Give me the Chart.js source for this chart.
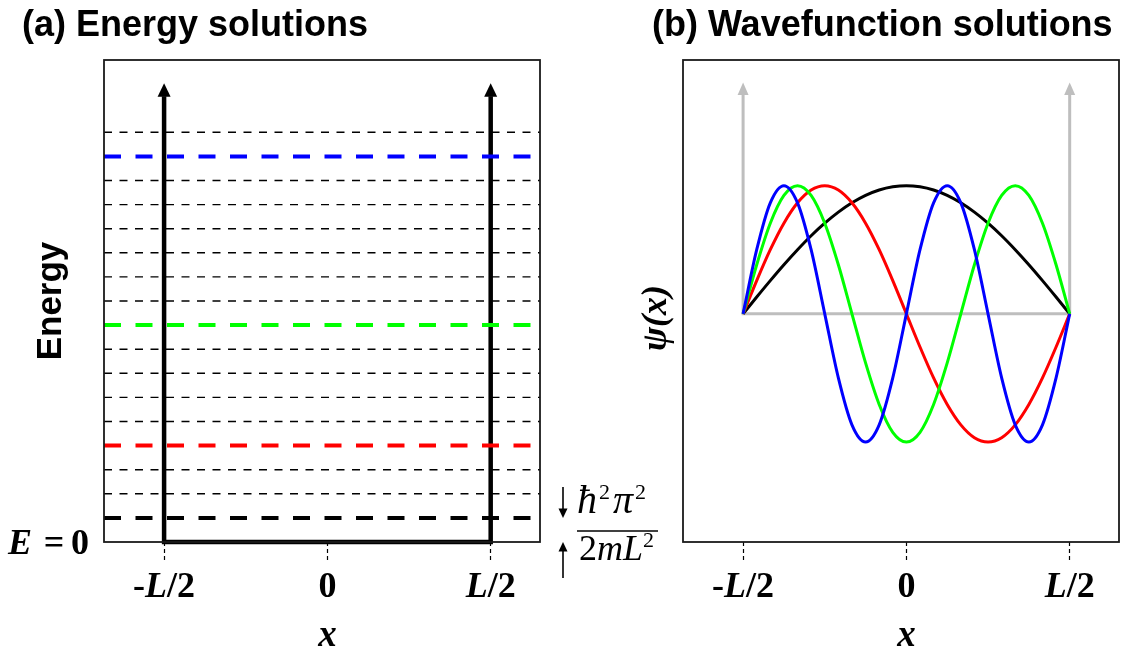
<!DOCTYPE html>
<html><head><meta charset="utf-8">
<script src="https://cdn.jsdelivr.net/npm/chart.js@4.4.0/dist/chart.umd.min.js"></script>
<style>
html,body{margin:0;padding:0;background:#fff;}
#wrap{position:relative;width:1121px;height:652px;overflow:hidden;background:#fff;}
canvas{position:absolute;left:0;top:0;}
</style></head><body>
<div id="wrap"><canvas id="ca" width="1121" height="652"></canvas><canvas id="cb" width="1121" height="652"></canvas></div>
<script>
// ---------- data ----------
const TICK_POS = [-0.5, 0, 0.5];
const TICK_LABELS = ['-L/2', '0', 'L/2'];

// (a) energy levels E_n in units of hbar^2 pi^2 / (2 m L^2)
const LEVEL_N = [1, 2, 3, 4];
const LEVEL_E = [1, 4, 9, 16];
const LEVEL_COLORS = ['#000000', '#FF0000', '#00FF00', '#0000FF'];
const GRID_E = [2, 3, 5, 6, 7, 8, 10, 11, 12, 13, 14, 15, 17];
const WALL_X = [-0.5, -0.5, 0.5, 0.5];
const WALL_E = [18.5, 0, 0, 18.5];

// (b) wavefunctions
const PSI_X = [-0.5, -0.4583, -0.4167, -0.375, -0.3333, -0.2917, -0.25, -0.2083, -0.1667, -0.125, -0.0833, -0.0417, 0,
               0.0417, 0.0833, 0.125, 0.1667, 0.2083, 0.25, 0.2917, 0.3333, 0.375, 0.4167, 0.4583, 0.5];
const PSI_1 = [0, 0.131, 0.259, 0.383, 0.500, 0.609, 0.707, 0.793, 0.866, 0.924, 0.966, 0.991, 1.000,
               0.991, 0.966, 0.924, 0.866, 0.793, 0.707, 0.609, 0.500, 0.383, 0.259, 0.131, 0];
const PSI_2 = [0, 0.259, 0.500, 0.707, 0.866, 0.966, 1.000, 0.966, 0.866, 0.707, 0.500, 0.259, 0,
               -0.259, -0.500, -0.707, -0.866, -0.966, -1.000, -0.966, -0.866, -0.707, -0.500, -0.259, 0];
const PSI_3 = [0, 0.383, 0.707, 0.924, 1.000, 0.924, 0.707, 0.383, 0, -0.383, -0.707, -0.924, -1.000,
               -0.924, -0.707, -0.383, 0, 0.383, 0.707, 0.924, 1.000, 0.924, 0.707, 0.383, 0];
const PSI_4 = [0, 0.500, 0.866, 1.000, 0.866, 0.500, 0, -0.500, -0.866, -1.000, -0.866, -0.500, 0,
               0.500, 0.866, 1.000, 0.866, 0.500, 0, -0.500, -0.866, -1.000, -0.866, -0.500, 0];
const PSI_COLORS = ['#000000', '#FF0000', '#00FF00', '#0000FF'];
const PSI_AXIS_X = [-0.5, -0.5, 0.5, 0.5];
const PSI_AXIS_Y = [1.71, 0, 0, 1.71];

// ---------- layout constants ----------
const X_MIN = -0.684, X_MAX = 0.651;
const SANS = '"Liberation Sans", Arial, Helvetica, sans-serif';
const SERIF = '"Liberation Serif", "Times New Roman", Times, serif';

function xScaleOpts() {
  return {
    type: 'linear', min: X_MIN, max: X_MAX,
    afterBuildTicks: s => { s.ticks = TICK_POS.map(v => ({ value: v })); },
    afterFit: s => { s.height = 110; },
    ticks: { display: false },
    grid: { drawOnChartArea: false, drawTicks: true, tickLength: 21, tickColor: '#000', tickWidth: 1.2, tickBorderDash: [4, 3] },
    border: { display: false }
  };
}

// tick labels: letters bold italic, digits and signs bold upright (as in the math labels)
function drawTickLabels(ctx, xs) {
  ctx.save(); ctx.fillStyle = '#000'; ctx.textAlign = 'left'; ctx.textBaseline = 'alphabetic';
  TICK_POS.forEach((v, i) => {
    const chars = TICK_LABELS[i].split('');
    const fontOf = c => (/[A-Za-z]/.test(c) ? 'bold italic ' : 'bold ') + '36px ' + SERIF;
    let w = 0;
    chars.forEach(c => { ctx.font = fontOf(c); w += ctx.measureText(c).width; });
    let x = xs.getPixelForValue(v) - w / 2;
    chars.forEach(c => { ctx.font = fontOf(c); ctx.fillText(c, x, 597); x += ctx.measureText(c).width; });
  });
  ctx.restore();
}

function arrowHead(ctx, x, yBase, len, half, color, up) {
  ctx.save();
  ctx.fillStyle = color;
  ctx.beginPath();
  if (up) { ctx.moveTo(x, yBase - len); ctx.lineTo(x - half, yBase + 0.5); ctx.lineTo(x + half, yBase + 0.5); }
  else { ctx.moveTo(x, yBase + len); ctx.lineTo(x - half, yBase - 0.5); ctx.lineTo(x + half, yBase - 0.5); }
  ctx.closePath(); ctx.fill(); ctx.restore();
}

function frame(ctx, a) {
  ctx.save(); ctx.strokeStyle = '#1a1a1a'; ctx.lineWidth = 1.8;
  ctx.strokeRect(a.left, a.top, a.right - a.left, a.bottom - a.top);
  ctx.restore();
}

// ---------- chart (a) ----------
const dsA = [];
LEVEL_E.forEach((e, i) => dsA.push({
  label: 'n=' + LEVEL_N[i], data: [{ x: X_MIN, y: e }, { x: X_MAX, y: e }],
  borderColor: LEVEL_COLORS[i], borderWidth: 4, borderDash: [17, 14.5], order: 1
}));
dsA.push({
  label: 'well', data: WALL_X.map((x, i) => ({ x, y: WALL_E[i] })),
  borderColor: '#000', borderWidth: 4.5, borderJoinStyle: 'miter', borderCapStyle: 'butt', order: 2, clip: false
});
GRID_E.forEach(e => dsA.push({
  label: 'E=' + e, data: [{ x: X_MIN, y: e }, { x: X_MAX, y: e }],
  borderColor: '#000', borderWidth: 1.4, borderDash: [8, 7.5], order: 3
}));

const pluginA = {
  id: 'decoA',
  afterDraw(chart) {
    const ctx = chart.ctx, a = chart.chartArea, xs = chart.scales.x, ys = chart.scales.y;
    frame(ctx, a);
    drawTickLabels(ctx, xs);
    // wall arrowheads
    [-0.5, 0.5].forEach(x => arrowHead(ctx, xs.getPixelForValue(x), ys.getPixelForValue(WALL_E[0]), 13, 6.5, '#000', true));
    ctx.save();
    ctx.fillStyle = '#000';
    // title
    ctx.font = 'bold 36px ' + SANS; ctx.textAlign = 'left'; ctx.textBaseline = 'alphabetic';
    ctx.fillText('(a) Energy solutions', 22, 36);
    // y label
    ctx.save(); ctx.translate(61, (a.top + a.bottom) / 2); ctx.rotate(-Math.PI / 2);
    ctx.textAlign = 'center'; ctx.font = 'bold 35px ' + SANS; ctx.fillText('Energy', 0, 0); ctx.restore();
    // x title
    ctx.textAlign = 'center'; ctx.font = 'bold italic 37px ' + SERIF;
    ctx.fillText('x', xs.getPixelForValue(0), 646);
    // E = 0
    const y0 = ys.getPixelForValue(0);
    ctx.textAlign = 'left'; ctx.font = 'bold italic 36px ' + SERIF; ctx.fillText('E', 8, y0 + 12);
    ctx.textAlign = 'center'; ctx.font = 'bold 36px ' + SERIF;
    ctx.fillText('=', 54, y0 + 12); ctx.fillText('0', 80, y0 + 12);
    // spacing annotation arrows
    const ax = 563, y1 = ys.getPixelForValue(LEVEL_E[0]);
    ctx.strokeStyle = '#000'; ctx.lineWidth = 1.6;
    ctx.beginPath(); ctx.moveTo(ax, 487); ctx.lineTo(ax, y1 - 8); ctx.stroke();
    arrowHead(ctx, ax, y1 - 9, 9, 4.5, '#000', false);
    ctx.beginPath(); ctx.moveTo(ax, y0 + 8); ctx.lineTo(ax, 578); ctx.stroke();
    arrowHead(ctx, ax, y0 + 9, 9, 4.5, '#000', true);
    // fraction hbar^2 pi^2 / 2 m L^2
    ctx.textAlign = 'left'; ctx.textBaseline = 'alphabetic';
    const nb = 513, db = 560;
    const it = 'italic 40px ' + SERIF, itd = 'italic 36px ' + SERIF, rm = '36px ' + SERIF, sup = '22px ' + SERIF;
    let x = 577;
    const put = (t, f, yy, gap) => { ctx.font = f; ctx.fillText(t, x, yy); x += ctx.measureText(t).width + (gap || 0); };
    put('\u0127', it, nb, 2); put('2', sup, nb - 14, 3); put('\u03C0', it, nb, 2); put('2', sup, nb - 14, 0);
    x = 579;
    put('2', rm, db); put('m', itd, db); put('L', itd, db); put('2', sup, db - 13);
    ctx.lineWidth = 1.6; ctx.beginPath(); ctx.moveTo(577, 531); ctx.lineTo(658, 531); ctx.stroke();
    ctx.restore();
  }
};

new Chart(document.getElementById('ca'), {
  type: 'line',
  data: { datasets: dsA },
  options: {
    responsive: false, animation: false, events: [],
    layout: { padding: { left: 104, right: 1121 - 540, top: 60, bottom: 0 } },
    elements: { point: { radius: 0 }, line: { tension: 0 } },
    plugins: { legend: { display: false }, tooltip: { enabled: false }, title: { display: false } },
    scales: { x: xScaleOpts(), y: { display: false, min: 0, max: 20 } }
  },
  plugins: [pluginA]
});

// ---------- chart (b) ----------
const PSI = [PSI_1, PSI_2, PSI_3, PSI_4];
const dsB = PSI.map((arr, i) => ({
  label: 'psi' + (i + 1), data: PSI_X.map((x, k) => ({ x, y: arr[k] })),
  borderColor: PSI_COLORS[i], borderWidth: 3, cubicInterpolationMode: 'monotone', order: 4 - i
}));
dsB.push({
  label: 'axes', data: PSI_AXIS_X.map((x, i) => ({ x, y: PSI_AXIS_Y[i] })),
  borderColor: '#BEBEBE', borderWidth: 3, borderJoinStyle: 'miter', order: 10
});

const pluginB = {
  id: 'decoB',
  afterDraw(chart) {
    const ctx = chart.ctx, a = chart.chartArea, xs = chart.scales.x, ys = chart.scales.y;
    frame(ctx, a);
    drawTickLabels(ctx, xs);
    [-0.5, 0.5].forEach(x => arrowHead(ctx, xs.getPixelForValue(x), ys.getPixelForValue(PSI_AXIS_Y[0]), 12, 5.5, '#BEBEBE', true));
    ctx.save(); ctx.fillStyle = '#000';
    ctx.font = 'bold 36px ' + SANS; ctx.textAlign = 'left'; ctx.textBaseline = 'alphabetic';
    ctx.fillText('(b) Wavefunction solutions', 652, 36);
    ctx.save(); ctx.translate(666, 318); ctx.rotate(-Math.PI / 2);
    ctx.textAlign = 'center'; ctx.font = 'bold italic 36px ' + SERIF; ctx.fillText('\u03C8(x)', 0, 0); ctx.restore();
    ctx.textAlign = 'center'; ctx.font = 'bold italic 37px ' + SERIF;
    ctx.fillText('x', xs.getPixelForValue(0), 646);
    ctx.restore();
  }
};

new Chart(document.getElementById('cb'), {
  type: 'line',
  data: { datasets: dsB },
  options: {
    responsive: false, animation: false, events: [],
    layout: { padding: { left: 683, right: 2, top: 60, bottom: 0 } },
    elements: { point: { radius: 0 } },
    plugins: { legend: { display: false }, tooltip: { enabled: false }, title: { display: false } },
    scales: { x: xScaleOpts(), y: { display: false, min: -1.78, max: 1.98 } }
  },
  plugins: [pluginB]
});
</script>
</body></html>
